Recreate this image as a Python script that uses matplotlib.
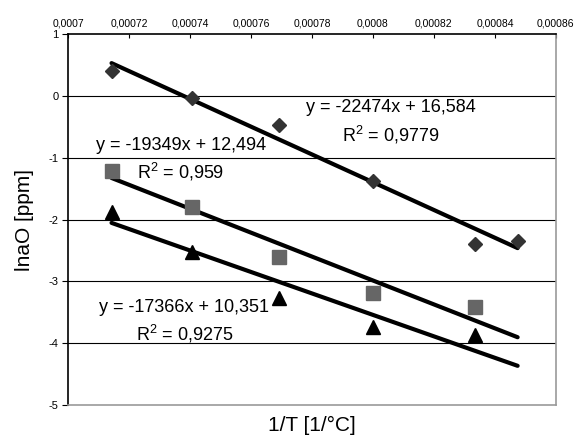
import numpy as np
import matplotlib
matplotlib.use("Agg")
from matplotlib import pyplot as plt

plt.rcParams['font.family'] = ['Liberation Sans', 'DejaVu Sans']

# 1/T values [1/°C]
x = np.array([1/1400, 1/1350, 1/1300, 1/1250, 1/1200, 1/1180])
diamonds = np.array([0.40, -0.03, -0.47, -1.37, -2.39, -2.34])
x_sq = x[:5]
squares = np.array([-1.21, -1.80, -2.60, -3.18, -3.41])
x_tri = x[:5]
triangles = np.array([-1.88, -2.53, -3.27, -3.74, -3.87])

# trendline coefficients (slope, intercept) as printed on chart
fit_d = (-22474, 16.584)
fit_s = (-19349, 12.494)
fit_t = (-17366, 10.351)
labels_d = ('y = -22474x + 16,584', '0,9779')
labels_s = ('y = -19349x + 12,494', '0,959')
labels_t = ('y = -17366x + 10,351', '0,9275')

xticks = [0.0007, 0.00072, 0.00074, 0.00076, 0.00078, 0.0008, 0.00082, 0.00084, 0.00086]
xticklabels = ['0,0007', '0,00072', '0,00074', '0,00076', '0,00078', '0,0008',
               '0,00082', '0,00084', '0,00086']
yticks = [-5, -4, -3, -2, -1, 0, 1]

fig = plt.figure(figsize=(5.85, 4.41), dpi=100)
ax = fig.add_axes([0.1162, 0.0816, 0.834, 0.841])

for yv in yticks[1:-1]:
    ax.axhline(yv, color='black', lw=0.8, zorder=1)

xl = np.array([x.min(), x.max()])
for slope, icpt in (fit_d, fit_s, fit_t):
    ax.plot(xl, slope * xl + icpt, color='black', lw=3, solid_capstyle='round', zorder=2)

ax.plot(x, diamonds, 'D', color='#333333', ms=7.5, zorder=3)
ax.plot(x_sq, squares, 's', color='#666666', ms=9.5, zorder=3)
ax.plot(x_tri, triangles, '^', color='black', ms=9.5, zorder=3)

fs = 13
r2 = '$\\mathregular{R^2}$ = '
ax.text(0.0008059, -0.18, labels_d[0], fontsize=fs, ha='center', va='center')
ax.text(0.0008059, -0.63, r2 + labels_d[1], fontsize=fs, ha='center', va='center')
ax.text(0.000737, -0.80, labels_s[0], fontsize=fs, ha='center', va='center')
ax.text(0.000737, -1.23, r2 + labels_s[1], fontsize=fs, ha='center', va='center')
ax.text(0.0007382, -3.42, labels_t[0], fontsize=fs, ha='center', va='center')
ax.text(0.0007382, -3.85, r2 + labels_t[1], fontsize=fs, ha='center', va='center')

ax.set_xlim(0.0007, 0.00086)
ax.set_ylim(-5, 1)
ax.set_yticks(yticks)
ax.set_yticklabels([str(v) for v in yticks], fontsize=8)
ax.xaxis.tick_top()
ax.set_xticks(xticks)
ax.set_xticklabels(xticklabels, fontsize=7.5)
ax.tick_params(axis='x', direction='in', length=3, pad=4)
ax.tick_params(axis='y', direction='out', length=4, pad=3)

ax.spines['top'].set_color('black')
ax.spines['left'].set_color('black')
ax.spines['bottom'].set_color('#999999')
ax.spines['right'].set_color('#999999')
for s in ax.spines.values():
    s.set_linewidth(1.2)

ax.set_ylabel('lnaO [ppm]', fontsize=15, labelpad=10)
fig.text(0.533, 0.035, '1/T [1/°C]', fontsize=15, ha='center', va='center')

fig.savefig('out.png', dpi=100)
